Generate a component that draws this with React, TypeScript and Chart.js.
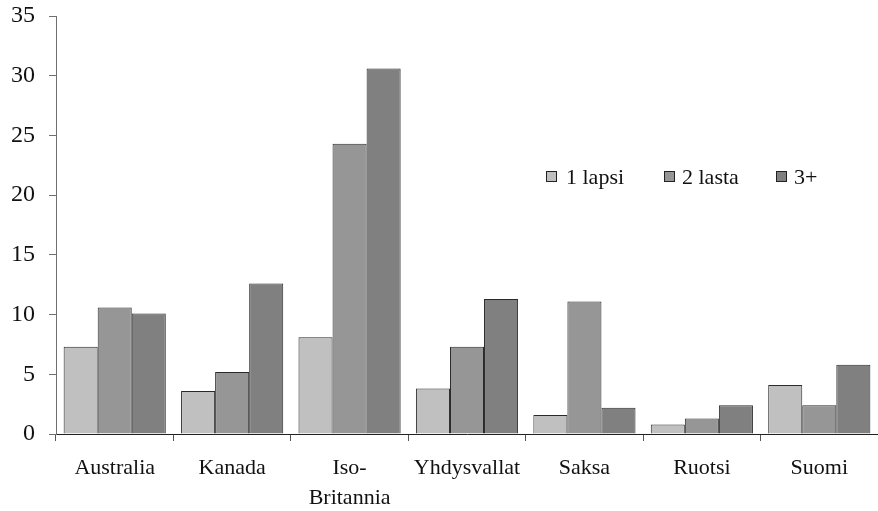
import React, { useEffect, useRef } from 'react';
import { Chart, registerables } from 'chart.js';

Chart.register(...registerables);

const categories: (string | string[])[] = ['Australia', 'Kanada', ['Iso-', 'Britannia'], 'Yhdysvallat', 'Saksa', 'Ruotsi', 'Suomi'];
const seriesLabels = ['1 lapsi', '2 lasta', '3+'];
const oneChild = [7.3, 3.6, 8.1, 3.8, 1.6, 0.8, 4.1];
const twoChildren = [10.6, 5.2, 24.3, 7.3, 11.1, 1.3, 2.4];
const threePlus = [10.1, 12.6, 30.6, 11.3, 2.2, 2.4, 5.8];
const yMin = 0;
const yMax = 35;
const yStep = 5;

const colors = ['#c0c0c0', '#969696', '#808080'];
const FONT = '"Liberation Serif", "Times New Roman", serif';

const legendPlugin = {
  id: 'innerLegend',
  afterDraw(chart: any) {
    const ctx = chart.ctx;
    const items = [
      { box: 546, text: 566 },
      { box: 664, text: 682 },
      { box: 776, text: 794 },
    ];
    const y = 177;
    ctx.save();
    ctx.font = `22px ${FONT}`;
    ctx.textBaseline = 'middle';
    ctx.textAlign = 'left';
    chart.data.datasets.forEach((ds: any, i: number) => {
      const it = items[i];
      ctx.fillStyle = ds.backgroundColor;
      ctx.fillRect(it.box + 0.5, y - 5.5, 10, 10);
      ctx.strokeStyle = '#222';
      ctx.lineWidth = 1;
      ctx.strokeRect(it.box + 0.5, y - 5.5, 10, 10);
      ctx.fillStyle = '#111';
      ctx.fillText(ds.label, it.text, y + 1);
    });
    ctx.restore();
  },
};

export default function App() {
  const ref = useRef<HTMLCanvasElement | null>(null);
  useEffect(() => {
    if (!ref.current) return;
    const datasets = [oneChild, twoChildren, threePlus].map((d, i) => ({
      label: seriesLabels[i],
      data: d,
      backgroundColor: colors[i],
      borderColor: '#2a2a2a',
      borderWidth: 1,
      categoryPercentage: 0.87,
      barPercentage: 1.0,
    }));
    const chart = new Chart(ref.current, {
      type: 'bar',
      data: { labels: categories as any, datasets },
      plugins: [legendPlugin],
      options: {
        animation: false,
        responsive: true,
        maintainAspectRatio: false,
        layout: { padding: { top: 16, right: 0, left: 0, bottom: 0 } },
        plugins: {
          legend: { display: false },
          tooltip: { enabled: false },
        },
        scales: {
          x: {
            afterFit: (s: any) => { s.height = 77; s.paddingLeft = 0; s.paddingRight = 0; },
            grid: {
              display: true,
              offset: true,
              drawOnChartArea: false,
              drawTicks: true,
              tickLength: 7,
              color: '#555',
            },
            border: { display: true, color: '#222', width: 1 },
            ticks: {
              color: '#111',
              padding: 12,
              maxRotation: 0,
              autoSkip: false,
              font: { family: FONT, size: 22, lineHeight: 1.36 },
            },
          },
          y: {
            min: yMin,
            max: yMax,
            afterFit: (s: any) => { s.width = 56; s.paddingTop = 0; s.paddingBottom = 0; },
            grid: {
              display: true,
              drawOnChartArea: false,
              drawTicks: true,
              tickLength: 7,
              color: '#707070',
            },
            border: { display: true, color: '#707070', width: 1 },
            ticks: {
              stepSize: yStep,
              color: '#111',
              padding: 14,
              font: { family: FONT, size: 24 },
            },
          },
        },
      },
    });
    return () => chart.destroy();
  }, []);
  return (
    <div style={{ position: 'fixed', left: 0, top: 0, width: 878, height: 511, background: '#fff' }}>
      <canvas ref={ref} />
    </div>
  );
}
